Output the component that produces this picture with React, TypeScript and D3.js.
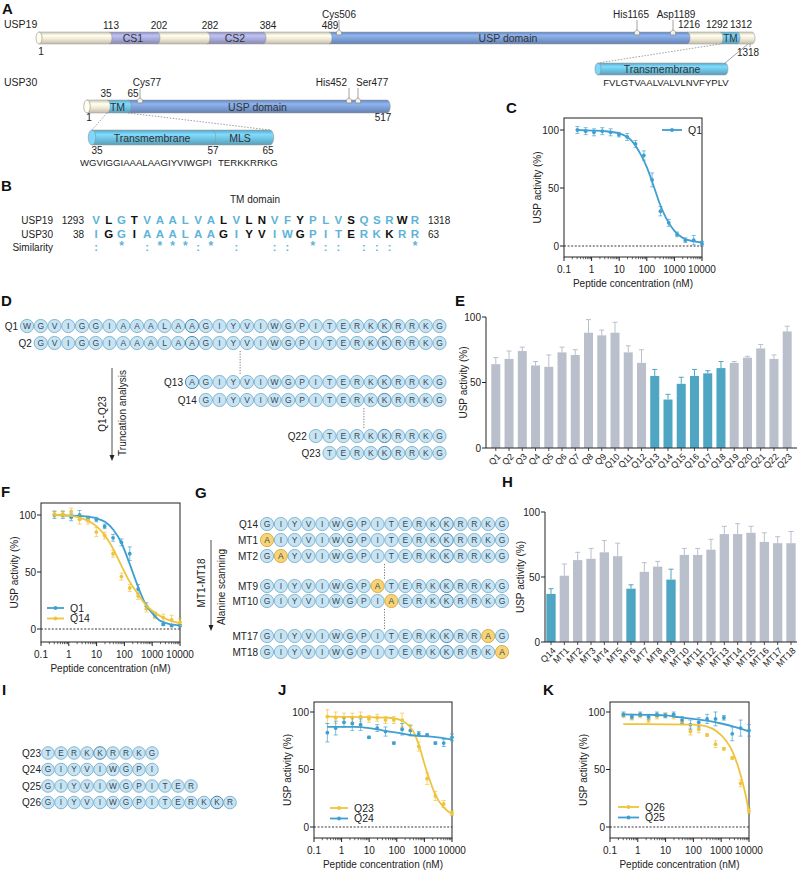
import React from 'react';
import * as d3 from 'd3';

const FONT = "'Liberation Sans', Arial, Helvetica, sans-serif";
const BLUE = '#3f9fd1';
const YELLOW = '#efc43c';
const BAR_GREY = '#b9c0cc';
const BAR_TEAL = '#4ea6c3';
const CIRCLE_FILL = '#c6e4f3';
const CIRCLE_STROKE = '#6fa6c5';
const CIRCLE_DARK = '#4a82a4';
const ALA_FILL = '#f6d477';
const ALA_STROKE = '#d0a030';
const SEQ_BLUE = '#5db3d8';

// ---------------- Panel A data ----------------
const usp19Residues = [1, 113, 202, 282, 384, 489, 506, 1165, 1189, 1216, 1292, 1312, 1318];
const usp19DomainStarts = [1, 113, 202, 282, 384, 489, 1216, 1292, 1312];
const usp19DomainEnds = [113, 202, 282, 384, 489, 1216, 1292, 1312, 1318];
const usp19DomainKinds = ['linker', 'cs', 'linker', 'cs', 'linker', 'usp', 'linker', 'tm', 'linker'];
const usp19DomainNames = ['', 'CS1', '', 'CS2', '', 'USP domain', '', 'TM', ''];
const usp19Boundaries = [113, 202, 282, 384, 489, 1216, 1292, 1312];
const usp19SiteNames = ['Cys506', 'His1165', 'Asp1189'];
const usp19SitePos = [506, 1165, 1189];
const usp19TmSeq = 'FVLGTVAALVALVLNVFYPLV';

const usp30Residues = [1, 35, 65, 77, 452, 477, 517];
const usp30DomainStarts = [1, 35, 65];
const usp30DomainEnds = [35, 65, 517];
const usp30DomainKinds = ['linker', 'tm', 'usp'];
const usp30DomainNames = ['', 'TM', 'USP domain'];
const usp30Boundaries = [35, 65];
const usp30SiteNames = ['Cys77', 'His452', 'Ser477'];
const usp30SitePos = [77, 452, 477];
const usp30TmSeqA = 'WGVIGGIAAALAAGIYVIWGPI';
const usp30TmSeqB = 'TERKKRRKG';
const usp30ZoomResidues = [35, 57, 65];

// ---------------- Panel B data ----------------
const alignUsp19 = 'VLGTVAALVALVLNVFYPLVSQSRWR';
const alignUsp19Color = 'bkbkbbbbbbkbkkbbkbbbkbbbkb';
const alignUsp30 = 'IGGIAAALAAGIYVIWGPITERKKRR';
const alignUsp30Color = 'bkbkbbbbbbkbkkbbkbbbkbbkbb';
const similarity = ': * :***:* :  :: *:: ::: *';

// ---------------- Panel D data ----------------
const q1Sequence = 'WGVIGGIAAALAAGIYVIWGPITERKKRRKG';
const truncLabels = ['Q1', 'Q2', 'Q13', 'Q14', 'Q22', 'Q23'];
const truncStarts = [1, 2, 13, 14, 22, 23];
const q1DarkResidues = [13, 27];

// ---------------- Panel E data ----------------
const eLabels = ['Q1', 'Q2', 'Q3', 'Q4', 'Q5', 'Q6', 'Q7', 'Q8', 'Q9', 'Q10', 'Q11', 'Q12', 'Q13', 'Q14', 'Q15', 'Q16', 'Q17', 'Q18', 'Q19', 'Q20', 'Q21', 'Q22', 'Q23'];
const eValues = [64, 68, 74, 63, 62, 73, 71, 88, 86, 88, 73, 65, 55, 37, 49, 55, 57, 61, 65, 69, 76, 68, 89];
const eErrors = [5, 6, 3, 3, 9, 4, 4, 10, 4, 8, 5, 10, 5, 4, 5, 5, 2, 5, 1, 1, 3, 3, 4];
const eHighlight = ['Q13', 'Q14', 'Q15', 'Q16', 'Q17', 'Q18'];

// ---------------- Dose-response data ----------------
const concentrations = [0.305, 0.61, 1.22, 2.44, 4.88, 9.77, 19.5, 39.1, 78.1, 156, 312, 625, 1250, 2500, 5000, 10000];

const cQ1Values = [100, 99, 98, 99, 98, 96, 94, 88, 78, 57, 30, 20, 10, 5, 5, 2];
const cQ1Errors = [3, 3, 3, 3, 3, 2, 3, 3, 4, 6, 4, 3, 2, 2, 4, 2];
const cQ1FitConc = [0.3, 1, 3, 10, 30, 60, 100, 200, 300, 500, 1000, 2000, 5000, 10000];
const cQ1FitValues = [100, 99.5, 99, 97, 90, 79, 68, 48, 36, 24, 13, 7, 4, 3];

const fQ1Values = [100, 100, 98, 100, 97, 96, 90, 80, 76, 66, 35, 20, 12, 4, 3, 3];
const fQ1Errors = [3, 3, 3, 4, 2, 2, 2, 3, 3, 6, 4, 3, 2, 1, 1, 1];
const fQ1FitConc = [0.3, 1, 3, 10, 20, 40, 80, 150, 300, 600, 1000, 2000, 5000, 10000];
const fQ1FitValues = [100, 99.5, 99, 97, 94, 87, 75, 58, 38, 21, 14, 7, 4, 3];
const fQ14Values = [101, 101, 103, 96, 95, 85, 82, 66, 46, 36, 29, 18, 12, 10, 8, 6];
const fQ14Errors = [3, 3, 3, 4, 3, 4, 3, 3, 3, 3, 3, 3, 3, 3, 4, 3];
const fQ14FitConc = [0.3, 1, 3, 10, 20, 40, 80, 150, 300, 600, 1000, 3000, 10000];
const fQ14FitValues = [100, 99.5, 97, 90, 82, 70, 55, 42, 31, 21, 16, 9, 5];

const jQ23Values = [96, 95, 95, 95, 96, 94, 95, 93, 93, 93, 84, 70, 42, 27, 20, 12];
const jQ23Errors = [6, 5, 4, 4, 4, 3, 3, 3, 3, 6, 5, 4, 5, 4, 3, 2];
const jQ23FitConc = [0.3, 10, 50, 100, 200, 400, 700, 1000, 1500, 2500, 5000, 10000];
const jQ23FitValues = [96, 95.5, 95, 94, 91, 83, 68, 55, 42, 28, 17, 11];
const jQ24Values = [82, 86, 91, 90, 89, 78, 86, 83, 73, 85, 84, 81, 80, 73, 73, 78];
const jQ24Errors = [8, 6, 4, 6, 5, 1, 3, 4, 1, 5, 4, 2, 1, 1, 3, 3];
const jQ24FitConc = [0.3, 3, 10, 30, 100, 300, 1000, 3000, 10000];
const jQ24FitValues = [87, 87, 86, 84, 82, 80, 79, 78, 76];

const kQ26Values = [97, 95, 97, 93, 96, 97, 96, 91, 83, 85, 80, 72, 68, 60, 38, 14];
const kQ26Errors = [2, 2, 2, 2, 2, 2, 2, 2, 3, 3, 1, 3, 1, 1, 3, 2];
const kQ26FitConc = [0.3, 100, 300, 700, 1500, 2500, 4000, 6000, 8000, 10000];
const kQ26FitValues = [89.5, 89, 87.5, 83, 75, 66, 53, 38, 25, 12];
const kQ25Values = [98, 96, 98, 96, 98, 97, 98, 93, 89, 91, 94, 94, 95, 81, 86, 84];
const kQ25Errors = [2, 2, 2, 2, 2, 2, 2, 3, 4, 4, 4, 6, 2, 6, 7, 5];
const kQ25FitConc = [0.3, 3, 10, 30, 100, 300, 1000, 3000, 10000];
const kQ25FitValues = [98, 97.5, 97, 95.5, 94, 92.5, 90, 87, 83];

// ---------------- Panel G data ----------------
const q14Sequence = 'GIYVIWGPITERKKRRKG';
const alaLabels = ['Q14', 'MT1', 'MT2', 'MT9', 'MT10', 'MT17', 'MT18'];
const alaPositions = [0, 1, 2, 9, 10, 17, 18];
const q14DarkResidues = [14];

// ---------------- Panel H data ----------------
const hLabels = ['Q14', 'MT1', 'MT2', 'MT3', 'MT4', 'MT5', 'MT6', 'MT7', 'MT8', 'MT9', 'MT10', 'MT11', 'MT12', 'MT13', 'MT14', 'MT15', 'MT16', 'MT17', 'MT18'];
const hValues = [37, 51, 63, 64, 69, 66, 41, 54, 58, 48, 67, 67, 71, 83, 83, 84, 77, 76, 76];
const hErrors = [4, 9, 6, 8, 9, 10, 3, 7, 4, 8, 5, 5, 8, 6, 8, 5, 7, 5, 9];
const hHighlight = ['Q14', 'MT6', 'MT9'];

// ---------------- Panel I data ----------------
const iLabels = ['Q23', 'Q24', 'Q25', 'Q26'];
const iSequences = ['TERKKRRKG', 'GIYVIWGPI', 'GIYVIWGPITER', 'GIYVIWGPITERKKR'];
const iDarkResidues = [5, 0, 0, 14];

// =====================================================================
const COLORS: Record<string, string> = {
  linker: '#efe8d4',
  cs: '#a8aad8',
  usp: '#7d9fd6',
  tm: '#6fc2e2',
};

function Defs() {
  return (
    <defs>
      {Object.keys(COLORS).map((k) => {
        const c = COLORS[k];
        return (
          <linearGradient key={k} id={`g-${k}`} x1="0" y1="0" x2="0" y2="1">
            <stop offset="0%" stopColor={d3.color(c)!.darker(0.45).toString()} />
            <stop offset="30%" stopColor={d3.color(c)!.brighter(0.35).toString()} />
            <stop offset="60%" stopColor={c} />
            <stop offset="100%" stopColor={d3.color(c)!.darker(0.6).toString()} />
          </linearGradient>
        );
      })}
    </defs>
  );
}

type Seg = { x0: number; x1: number; kind: string };

function Cylinder({ segs, y, h }: { segs: Seg[]; y: number; h: number }) {
  const rx = Math.max(2.5, h * 0.25);
  const first = segs[0];
  const last = segs[segs.length - 1];
  const rev = [...segs].reverse();
  return (
    <g>
      {rev.map((s, i) => (
        <g key={i}>
          <rect x={s.x0} y={y} width={s.x1 - s.x0} height={h} fill={`url(#g-${s.kind})`} />
          <path d={`M${s.x1},${y} A${rx},${h / 2} 0 0 1 ${s.x1},${y + h} Z`} fill={`url(#g-${s.kind})`} />
          <path d={`M${s.x1},${y} A${rx},${h / 2} 0 0 1 ${s.x1},${y + h}`} fill="none" stroke="#8d8d8d" strokeWidth={0.5} />
        </g>
      ))}
      <line x1={first.x0} x2={last.x1} y1={y} y2={y} stroke="#9a9a9a" strokeWidth={0.5} />
      <line x1={first.x0} x2={last.x1} y1={y + h} y2={y + h} stroke="#9a9a9a" strokeWidth={0.5} />
      <ellipse cx={first.x0} cy={y + h / 2} rx={rx} ry={h / 2} fill={d3.color(COLORS[first.kind])!.brighter(0.3).toString()} stroke="#8d8d8d" strokeWidth={0.6} />
    </g>
  );
}

function Marker({ x, y }: { x: number; y: number }) {
  return <path d={`M${x - 2.6},${y + 2.4} L${x - 2.6},${y - 0.6} L${x},${y - 2.8} L${x + 2.6},${y - 0.6} L${x + 2.6},${y + 2.4} Z`} fill="#f4f0e2" stroke="#7a7a7a" strokeWidth={0.6} />;
}

function PanelA() {
  const x19 = d3.scaleLinear().domain(usp19Residues).range([39, 109, 157, 207, 263, 329, 339, 637, 673, 687, 720, 737, 752]);
  const segs19: Seg[] = usp19DomainStarts.map((s, i) => ({ x0: x19(s), x1: x19(usp19DomainEnds[i]), kind: usp19DomainKinds[i] }));
  const x30 = d3.scaleLinear().domain(usp30Residues).range([87, 107, 128, 140, 349, 358, 387]);
  const segs30: Seg[] = usp30DomainStarts.map((s, i) => ({ x0: x30(s), x1: x30(usp30DomainEnds[i]), kind: usp30DomainKinds[i] }));
  const xz = d3.scaleLinear().domain(usp30ZoomResidues).range([92, 212, 270]);
  const boundaryDx: Record<number, number> = { 113: 2, 202: 2, 282: 3, 384: 5, 489: 1, 1216: 2, 1292: -3, 1312: 4 };
  const siteDx19 = [0, -6, 3];
  const fs = 10;
  return (
    <g fontSize={fs} fill="#222">
      <text x={4} y={28} fontSize={10.5}>USP19</text>
      <line x1={x19(1292)} y1={44} x2={598} y2={63} stroke="#777" strokeWidth={0.7} strokeDasharray="1.5,1.5" />
      <line x1={x19(1318) - 4} y1={44} x2={725} y2={63} stroke="#777" strokeWidth={0.7} />
      <Cylinder segs={segs19} y={32} h={12} />
      {usp19DomainNames.map((n, i) => n ? (
        <text key={i} x={(segs19[i].x0 + segs19[i].x1) / 2 + (n === 'TM' ? 2 : 0)} y={42} textAnchor="middle" fontSize={n === 'TM' ? 10 : 10.5} fill="#333">{n}</text>
      ) : null)}
      {usp19Boundaries.map((b) => (
        <text key={b} x={x19(b) + boundaryDx[b]} y={b >= 1216 ? 28 : 29} textAnchor="middle">{b}</text>
      ))}
      <text x={x19(1) + 2} y={55} textAnchor="middle">1</text>
      <line x1={x19(1318) - 2} y1={44} x2={x19(1318) - 2} y2={47} stroke="#555" strokeWidth={0.6} />
      <text x={748} y={56} textAnchor="middle">1318</text>
      {usp19SitePos.map((p, i) => (
        <g key={p}>
          <line x1={x19(p)} x2={x19(p)} y1={20} y2={31} stroke="#666" strokeWidth={0.6} />
          <Marker x={x19(p)} y={32.5} />
          <text x={x19(p) + siteDx19[i]} y={18} textAnchor="middle">{usp19SiteNames[i]}</text>
        </g>
      ))}
      <Cylinder segs={[{ x0: 598, x1: 725, kind: 'tm' }]} y={63} h={12} />
      <text x={662} y={72.5} textAnchor="middle" fontSize={10.5} fill="#333">Transmembrane</text>
      <text x={666} y={86} textAnchor="middle" fontSize={9.6}>{usp19TmSeq}</text>

      <text x={4} y={86} fontSize={10.5}>USP30</text>
      <line x1={x30(35)} y1={113} x2={xz(35)} y2={130} stroke="#777" strokeWidth={0.7} strokeDasharray="1.5,1.5" />
      <line x1={x30(65)} y1={113} x2={xz(65)} y2={130} stroke="#777" strokeWidth={0.7} strokeDasharray="1.5,1.5" />
      <Cylinder segs={segs30} y={100} h={13} />
      {usp30DomainNames.map((n, i) => n ? (
        <text key={i} x={(segs30[i].x0 + segs30[i].x1) / 2} y={110.5} textAnchor="middle" fontSize={10.5} fill="#333">{n}</text>
      ) : null)}
      {usp30Boundaries.map((b, i) => (
        <text key={b} x={x30(b) + (i === 0 ? -1 : 5)} y={97} textAnchor="middle">{b}</text>
      ))}
      <text x={x30(1) + 2} y={121} textAnchor="middle">1</text>
      <text x={x30(517) - 4} y={121} textAnchor="middle">517</text>
      {usp30SitePos.map((p, i) => (
        <g key={p}>
          <line x1={x30(p)} x2={x30(p)} y1={88} y2={99} stroke="#666" strokeWidth={0.6} />
          <Marker x={x30(p)} y={100.5} />
          <text x={i === 0 ? x30(p) + 7 : x30(p) - 2} y={86} textAnchor={i === 0 ? 'middle' : i === 1 ? 'end' : 'start'}>{usp30SiteNames[i]}</text>
        </g>
      ))}
      <Cylinder segs={[{ x0: xz(35), x1: xz(57), kind: 'tm' }, { x0: xz(57), x1: xz(65), kind: 'tm' }]} y={130} h={15} />
      <text x={152} y={142} textAnchor="middle" fontSize={10.5} fill="#333">Transmembrane</text>
      <text x={240} y={142} textAnchor="middle" fontSize={10.5} fill="#333">MLS</text>
      {usp30ZoomResidues.map((r, i) => (
        <text key={r} x={xz(r) + (i === 0 ? 5 : i === 1 ? 1 : -2)} y={154} textAnchor="middle">{r}</text>
      ))}
      <text x={80} y={166} fontSize={9.6}>{usp30TmSeqA}</text>
      <text x={218} y={166} fontSize={9.6}>{usp30TmSeqB}</text>
    </g>
  );
}

function PanelB() {
  const xb = d3.scaleLinear().domain([0, alignUsp19.length - 1]).range([96, 415]);
  const col = (c: string) => (c === 'b' ? SEQ_BLUE : '#111');
  return (
    <g fontSize={10} fill="#222">
      <text x={255} y={203} textAnchor="middle">TM domain</text>
      <text x={53} y={224} textAnchor="end">USP19</text>
      <text x={53} y={238} textAnchor="end">USP30</text>
      <text x={53} y={251} textAnchor="end">Similarity</text>
      <text x={84} y={224} textAnchor="end">1293</text>
      <text x={84} y={238} textAnchor="end">38</text>
      <text x={428} y={224}>1318</text>
      <text x={428} y={238}>63</text>
      {alignUsp19.split('').map((ch, i) => (
        <text key={'a' + i} x={xb(i)} y={224} textAnchor="middle" fontWeight="bold" fontSize={11.5} fill={col(alignUsp19Color[i])}>{ch}</text>
      ))}
      {alignUsp30.split('').map((ch, i) => (
        <text key={'b' + i} x={xb(i)} y={238} textAnchor="middle" fontWeight="bold" fontSize={11.5} fill={col(alignUsp30Color[i])}>{ch}</text>
      ))}
      {similarity.split('').map((ch, i) => ch.trim() ? (
        <text key={'s' + i} x={xb(i)} y={ch === '*' ? 250 : 251} textAnchor="middle" fontWeight="bold" fontSize={ch === '*' ? 12 : 11} fill={SEQ_BLUE}>{ch}</text>
      ) : null)}
    </g>
  );
}

function Residue({ x, y, r, ch, ala, dark, fs }: any) {
  return (
    <g>
      <circle cx={x} cy={y} r={r} fill={ala ? ALA_FILL : CIRCLE_FILL} stroke={ala ? ALA_STROKE : dark ? CIRCLE_DARK : CIRCLE_STROKE} strokeWidth={dark ? 0.95 : 0.8} />
      <text x={x} y={y} dy="0.36em" textAnchor="middle" fontSize={fs} fill="#3a4650">{ch}</text>
    </g>
  );
}

function PanelD() {
  const xs = d3.scaleLinear().domain([1, q1Sequence.length]).range([27, 439.5]);
  const rowsY = [326, 343, 382, 400, 436, 453];
  return (
    <g>
      {truncLabels.map((lab, ri) => {
        const st = truncStarts[ri];
        const y = rowsY[ri];
        return (
          <g key={lab}>
            <text x={xs(st) - 9} y={y} dy="0.35em" textAnchor="end" fontSize={10} fill="#222">{lab}</text>
            {q1Sequence.split('').map((ch, i) => (i + 1 >= st ? (
              <Residue key={i} x={xs(i + 1)} y={y} r={6.6} ch={ch} dark={q1DarkResidues.includes(i + 1)} fs={8.5} />
            ) : null))}
          </g>
        );
      })}
      <line x1={(xs(16) + xs(17)) / 2} x2={(xs(16) + xs(17)) / 2} y1={351} y2={374} stroke="#555" strokeWidth={0.8} strokeDasharray="1.2,1.5" />
      <line x1={(xs(25) + xs(26)) / 2} x2={(xs(25) + xs(26)) / 2} y1={408} y2={428} stroke="#555" strokeWidth={0.8} strokeDasharray="1.2,1.5" />
      <line x1={112} x2={112} y1={368} y2={456} stroke="#222" strokeWidth={0.8} />
      <path d="M109.5,455 L112,461 L114.5,455 Z" fill="#222" />
      <text transform="translate(106,414) rotate(-90)" textAnchor="middle" fontSize={10} fill="#222">Q1-Q23</text>
      <text transform="translate(126,413) rotate(-90)" textAnchor="middle" fontSize={10} fill="#222">Truncation analysis</text>
    </g>
  );
}

function PanelG() {
  const xs = d3.scaleLinear().domain([1, q14Sequence.length]).range([267, 502]);
  const rowsY = [524, 540, 556, 586, 601, 636, 652];
  const mid = (xs(9) + xs(10)) / 2;
  return (
    <g>
      {alaLabels.map((lab, ri) => {
        const y = rowsY[ri];
        const ap = alaPositions[ri];
        return (
          <g key={lab}>
            <text x={258} y={y} dy="0.35em" textAnchor="end" fontSize={10} fill="#222">{lab}</text>
            {q14Sequence.split('').map((ch, i) => {
              const ala = i + 1 === ap;
              return <Residue key={i} x={xs(i + 1)} y={y} r={6.6} ch={ala ? 'A' : ch} ala={ala} dark={q14DarkResidues.includes(i + 1)} fs={8.5} />;
            })}
          </g>
        );
      })}
      <line x1={mid} x2={mid} y1={564} y2={579} stroke="#555" strokeWidth={0.8} strokeDasharray="1.2,1.5" />
      <line x1={mid} x2={mid} y1={609} y2={629} stroke="#555" strokeWidth={0.8} strokeDasharray="1.2,1.5" />
      <line x1={211} x2={211} y1={540} y2={626} stroke="#222" strokeWidth={0.8} />
      <path d="M208.5,625 L211,631 L213.5,625 Z" fill="#222" />
      <text transform="translate(205,583) rotate(-90)" textAnchor="middle" fontSize={10} fill="#222">MT1-MT18</text>
      <text transform="translate(225,587) rotate(-90)" textAnchor="middle" fontSize={10} fill="#222">Alanine scanning</text>
    </g>
  );
}

function PanelI() {
  const xs = d3.scaleLinear().domain([1, 15]).range([48, 230]);
  const rowsY = [753, 769.5, 786, 802.5];
  return (
    <g>
      {iLabels.map((lab, ri) => (
        <g key={lab}>
          <text x={41} y={rowsY[ri]} dy="0.35em" textAnchor="end" fontSize={10} fill="#222">{lab}</text>
          {iSequences[ri].split('').map((ch, i) => (
            <Residue key={i} x={xs(i + 1)} y={rowsY[ri]} r={6.3} ch={ch} dark={iDarkResidues[ri] === i + 1} fs={8.3} />
          ))}
        </g>
      ))}
    </g>
  );
}

function BarChart({ labels, values, errors, highlight, left, right, y0, y100, pi, po, titleX }: any) {
  const x = d3.scaleBand<string>().domain(labels).range([left, right]).paddingInner(pi).paddingOuter(po);
  const y = d3.scaleLinear().domain([0, 100]).range([y0, y100]);
  const bw = x.bandwidth();
  return (
    <g fill="#222">
      {labels.map((l: string, i: number) => {
        const hl = highlight.includes(l);
        const c = hl ? BAR_TEAL : BAR_GREY;
        const cx = x(l)! + bw / 2;
        return (
          <g key={l}>
            <line x1={cx} x2={cx} y1={y(values[i])} y2={y(values[i] + errors[i])} stroke={c} strokeWidth={1} />
            <line x1={cx - 2.5} x2={cx + 2.5} y1={y(values[i] + errors[i])} y2={y(values[i] + errors[i])} stroke={c} strokeWidth={1} />
            <rect x={x(l)} y={y(values[i])} width={bw} height={y(0) - y(values[i])} fill={c} />
            <line x1={cx} x2={cx} y1={y0} y2={y0 + 3} stroke="#222" strokeWidth={0.8} />
            <text transform={`translate(${cx + 3},${y0 + 7}) rotate(-45)`} textAnchor="end" dy="0.35em" fontSize={9}>{l}</text>
          </g>
        );
      })}
      <line x1={left} x2={right} y1={y0} y2={y0} stroke="#222" strokeWidth={1} />
      <line x1={left} x2={left} y1={y0} y2={y100} stroke="#222" strokeWidth={1} />
      {[0, 50, 100].map((t) => (
        <g key={t}>
          <line x1={left - 4} x2={left} y1={y(t)} y2={y(t)} stroke="#222" strokeWidth={1} />
          <text x={left - 5} y={y(t)} dy="0.35em" textAnchor="end" fontSize={10}>{t}</text>
        </g>
      ))}
      <text transform={`translate(${titleX},${(y0 + y100) / 2}) rotate(-90)`} textAnchor="middle" fontSize={10}>USP activity (%)</text>
    </g>
  );
}

type Series = { name: string; color: string; values: number[]; errors: number[]; fitConc: number[]; fitValues: number[] };

function DoseChart({ left, right, top, bottom, y0, y100, series, legendX, legendY, legendW }: any) {
  const x = d3.scaleLog().domain([0.1, 10000]).range([left, right]);
  const y = d3.scaleLinear().domain([0, 100]).range([y0, y100]);
  const majors = [0.1, 1, 10, 100, 1000, 10000];
  const minors: number[] = [];
  [0.1, 1, 10, 100, 1000].forEach((d) => { for (let k = 2; k <= 9; k++) minors.push(d * k); });
  const line = d3.line<[number, number]>().x((d) => x(d[0])).y((d) => y(d[1])).curve(d3.curveMonotoneX);
  return (
    <g fill="#222">
      <rect x={left} y={top} width={right - left} height={bottom - top} fill="none" stroke="#222" strokeWidth={1} />
      <line x1={left} x2={right} y1={y(0)} y2={y(0)} stroke="#222" strokeDasharray="2,1.6" strokeWidth={0.9} />
      {[0, 50, 100].map((t) => (
        <g key={t}>
          <line x1={left - 4} x2={left} y1={y(t)} y2={y(t)} stroke="#222" />
          <text x={left - 5} y={y(t)} dy="0.35em" textAnchor="end" fontSize={10}>{t}</text>
        </g>
      ))}
      {majors.map((m) => (
        <g key={m}>
          <line x1={x(m)} x2={x(m)} y1={bottom} y2={bottom + 4} stroke="#222" />
          <text x={x(m)} y={bottom + 16} textAnchor="middle" fontSize={10}>{m < 1 ? '0.1' : String(m)}</text>
        </g>
      ))}
      {minors.map((m, i) => (
        <line key={i} x1={x(m)} x2={x(m)} y1={bottom} y2={bottom + 2.2} stroke="#222" strokeWidth={0.7} />
      ))}
      <text x={(left + right) / 2} y={bottom + 30} textAnchor="middle" fontSize={10}>Peptide concentration (nM)</text>
      <text transform={`translate(${left - 23},${(top + bottom) / 2}) rotate(-90)`} textAnchor="middle" fontSize={10}>USP activity (%)</text>
      {series.map((s: Series) => (
        <g key={s.name}>
          {concentrations.map((c, i) => (
            <g key={i}>
              <line x1={x(c)} x2={x(c)} y1={y(s.values[i] - s.errors[i])} y2={y(s.values[i] + s.errors[i])} stroke={s.color} strokeWidth={0.8} opacity={0.85} />
              <line x1={x(c) - 2} x2={x(c) + 2} y1={y(s.values[i] + s.errors[i])} y2={y(s.values[i] + s.errors[i])} stroke={s.color} strokeWidth={0.8} opacity={0.85} />
              <line x1={x(c) - 2} x2={x(c) + 2} y1={y(s.values[i] - s.errors[i])} y2={y(s.values[i] - s.errors[i])} stroke={s.color} strokeWidth={0.8} opacity={0.85} />
              <circle cx={x(c)} cy={y(s.values[i])} r={1.9} fill={s.color} />
            </g>
          ))}
        </g>
      ))}
      {series.map((s: Series) => (
        <path key={'f' + s.name} d={line(s.fitConc.map((c, i) => [c, s.fitValues[i]] as [number, number])) || ''} fill="none" stroke={s.color} strokeWidth={1.8} />
      ))}
      {series.map((s: Series, i: number) => (
        <g key={'l' + s.name}>
          <line x1={legendX} x2={legendX + legendW} y1={legendY + i * 10.5} y2={legendY + i * 10.5} stroke={s.color} strokeWidth={1.8} />
          <circle cx={legendX + legendW / 2} cy={legendY + i * 10.5} r={1.9} fill={s.color} />
          <text x={legendX + legendW + 6} y={legendY + i * 10.5} dy="0.35em" fontSize={10.5}>{s.name}</text>
        </g>
      ))}
    </g>
  );
}

const cSeries: Series[] = [{ name: 'Q1', color: BLUE, values: cQ1Values, errors: cQ1Errors, fitConc: cQ1FitConc, fitValues: cQ1FitValues }];
const fSeries: Series[] = [
  { name: 'Q1', color: BLUE, values: fQ1Values, errors: fQ1Errors, fitConc: fQ1FitConc, fitValues: fQ1FitValues },
  { name: 'Q14', color: YELLOW, values: fQ14Values, errors: fQ14Errors, fitConc: fQ14FitConc, fitValues: fQ14FitValues },
];
const jSeries: Series[] = [
  { name: 'Q23', color: YELLOW, values: jQ23Values, errors: jQ23Errors, fitConc: jQ23FitConc, fitValues: jQ23FitValues },
  { name: 'Q24', color: BLUE, values: jQ24Values, errors: jQ24Errors, fitConc: jQ24FitConc, fitValues: jQ24FitValues },
];
const kSeries: Series[] = [
  { name: 'Q26', color: YELLOW, values: kQ26Values, errors: kQ26Errors, fitConc: kQ26FitConc, fitValues: kQ26FitValues },
  { name: 'Q25', color: BLUE, values: kQ25Values, errors: kQ25Errors, fitConc: kQ25FitConc, fitValues: kQ25FitValues },
];

const panelLetters = ['A', 'B', 'C', 'D', 'E', 'F', 'G', 'H', 'I', 'J', 'K'];

export default function App() {
  const letterPos: Record<string, [number, number]> = {
    A: [2, 14], B: [1, 191], C: [506, 113], D: [1, 306], E: [455, 306], F: [1, 497], G: [195, 498],
    H: [502, 487], I: [2, 695], J: [278, 695], K: [543, 695],
  };
  return (
    <svg width={800} height={874} style={{ position: 'absolute', left: 0, top: 0, background: '#fff' }} fontFamily={FONT}>
      <rect width={800} height={874} fill="#fff" />
      <Defs />
      <PanelA />
      <PanelB />
      <DoseChart left={564} right={702} top={118} bottom={257} y0={246} y100={130} series={cSeries} legendX={662} legendY={130} legendW={20} />
      <PanelD />
      <BarChart labels={eLabels} values={eValues} errors={eErrors} highlight={eHighlight} left={486} right={797} y0={448} y100={317} pi={0.32} po={0.4} titleX={467} />
      <DoseChart left={41} right={180} top={503} bottom={642} y0={629} y100={515} series={fSeries} legendX={47} legendY={608} legendW={17} />
      <PanelG />
      <BarChart labels={hLabels} values={hValues} errors={hErrors} highlight={hHighlight} left={545} right={797} y0={642} y100={512} pi={0.3} po={0.1} titleX={524} />
      <PanelI />
      <DoseChart left={314} right={452} top={702} bottom={838} y0={827} y100={712} series={jSeries} legendX={330} legendY={808} legendW={18} />
      <DoseChart left={610} right={749} top={702} bottom={838} y0={827} y100={712} series={kSeries} legendX={618} legendY={807} legendW={21} />
      {panelLetters.map((l) => (
        <text key={l} x={letterPos[l][0]} y={letterPos[l][1]} fontSize={15} fontWeight="bold" fill="#111">{l}</text>
      ))}
    </svg>
  );
}
